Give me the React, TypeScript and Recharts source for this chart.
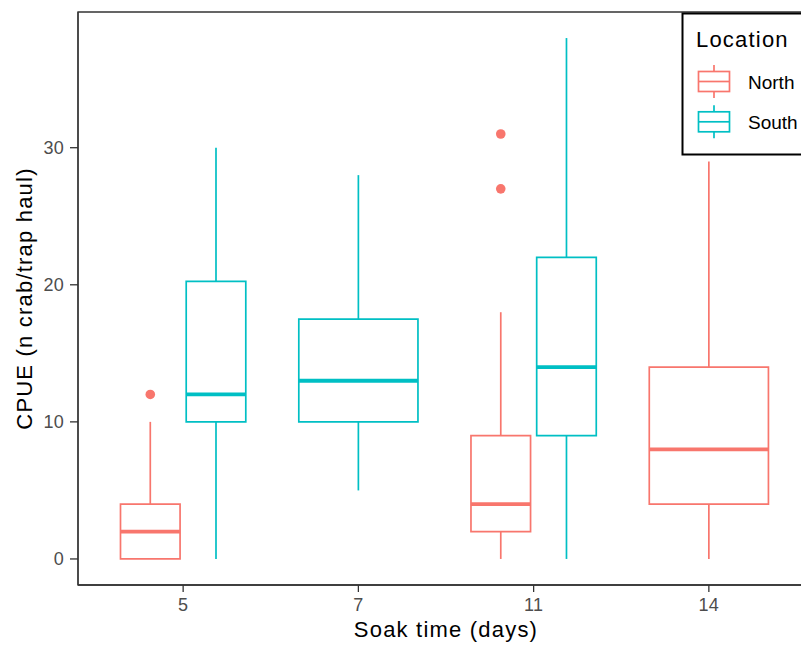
import {
  ComposedChart, XAxis, YAxis, Scatter, ReferenceArea, ReferenceLine,
} from 'recharts'

const SOAK = ['5', '7', '11', '14']
const LOCATIONS = ['North', 'South']
const LOC_COLORS = ['#F8766D', '#00BFC4']

// one entry per box
const BOX_SOAK = ['5', '5', '7', '11', '11', '14']
const BOX_LOC = ['North', 'South', 'South', 'North', 'South', 'North']
const BOX_MIN = [0, 0, 5, 0, 0, 0]
const BOX_Q1 = [0, 10, 10, 2, 9, 4]
const BOX_MED = [2, 12, 13, 4, 14, 8]
const BOX_Q3 = [4, 20.25, 17.5, 9, 22, 14]
const BOX_MAX = [10, 30, 28, 18, 38, 29]

const OUT_SOAK = ['5', '11', '11']
const OUT_LOC = ['North', 'North', 'North']
const OUT_VAL = [12, 27, 31]

const Y_TICKS = [0, 10, 20, 30]

const FONT = '"Liberation Sans", Arial, sans-serif'
const DODGE = 0.1875
const BOX_W = 0.34

// x position of a box / point, dodged when both locations share a soak time
function xPos(soak: string, loc: string) {
  const idx = SOAK.indexOf(soak) + 1
  const shared = BOX_SOAK.filter(s => s === soak).length > 1
  if (!shared) return { cx: idx, hw: BOX_W }
  const side = LOCATIONS.indexOf(loc) === 0 ? -1 : 1
  return { cx: idx + side * DODGE, hw: BOX_W / 2 }
}

const colorOf = (loc: string) => LOC_COLORS[LOCATIONS.indexOf(loc)]

const outliers = OUT_VAL.map((v, i) => ({
  x: xPos(OUT_SOAK[i], OUT_LOC[i]).cx,
  y: v,
  loc: OUT_LOC[i],
}))

export default function App() {
  const boxes = BOX_SOAK.map((soak, i) => {
    const { cx, hw } = xPos(soak, BOX_LOC[i])
    const c = colorOf(BOX_LOC[i])
    return [
      <ReferenceLine key={`wl${i}`} segment={[{ x: cx, y: BOX_MIN[i] }, { x: cx, y: BOX_Q1[i] }]}
        stroke={c} strokeWidth={1.7} />,
      <ReferenceLine key={`wu${i}`} segment={[{ x: cx, y: BOX_Q3[i] }, { x: cx, y: BOX_MAX[i] }]}
        stroke={c} strokeWidth={1.7} />,
      <ReferenceArea key={`b${i}`} x1={cx - hw} x2={cx + hw} y1={BOX_Q1[i]} y2={BOX_Q3[i]}
        fill="#ffffff" fillOpacity={1} stroke={c} strokeWidth={1.7} />,
      <ReferenceLine key={`m${i}`} segment={[{ x: cx - hw, y: BOX_MED[i] }, { x: cx + hw, y: BOX_MED[i] }]}
        stroke={c} strokeWidth={3.8} />,
    ]
  })

  return (
    <div style={{
      position: 'absolute', left: 0, top: 0, width: 801, height: 646,
      overflow: 'hidden', background: '#fff', fontFamily: FONT,
    }}>
      <ComposedChart width={830} height={646} margin={{ top: 12, right: 16, bottom: 0, left: 0 }}>
        <ReferenceArea x1={0.4} x2={4.6} y1={-1.9} y2={39.9} fill="none" stroke="#333333" strokeWidth={1.3} />
        <XAxis
          type="number" dataKey="x" domain={[0.4, 4.6]} ticks={[1, 2, 3, 4]}
          tickFormatter={(v: number) => SOAK[v - 1]} allowDataOverflow
          height={61} tickSize={7} tickMargin={6}
          axisLine={{ stroke: '#333333', strokeWidth: 1.3 }} tickLine={{ stroke: '#333333', strokeWidth: 1.3 }}
          tick={{ fill: '#4D4D4D', fontSize: 18, fontFamily: FONT, letterSpacing: 0.3 }}
          label={{
            value: 'Soak time (days)', position: 'insideBottom', offset: 9,
            style: { fill: '#000', fontSize: 22, fontFamily: FONT, letterSpacing: 1.2 },
          }}
        />
        <YAxis
          type="number" dataKey="y" domain={[-1.9, 39.9]} ticks={Y_TICKS} allowDataOverflow
          width={78} tickSize={8} tickMargin={6}
          axisLine={{ stroke: '#333333', strokeWidth: 1.3 }} tickLine={{ stroke: '#333333', strokeWidth: 1.3 }}
          tick={{ fill: '#4D4D4D', fontSize: 18, fontFamily: FONT, letterSpacing: 0.3 }}
          label={{
            value: 'CPUE (n crab/trap haul)', angle: -90, position: 'insideLeft', offset: 24,
            style: { fill: '#000', fontSize: 22, fontFamily: FONT, letterSpacing: 1.2, textAnchor: 'middle' },
          }}
        />
        {boxes}
        <Scatter
          data={outliers}
          isAnimationActive={false}
          shape={(p: any) => <circle cx={p.cx} cy={p.cy} r={4.8} fill={colorOf(p.payload.loc)} />}
        />
      </ComposedChart>

      <svg width={801} height={646} style={{ position: 'absolute', left: 0, top: 0, pointerEvents: 'none' }}>
        <rect x={682.5} y={13.5} width={200} height={141} fill="#fff" stroke="#000" strokeWidth={2} />
        <text x={696} y={47} fontSize={22} fontFamily={FONT} letterSpacing={1.2} fill="#000">Location</text>
        {LOCATIONS.map((loc, i) => {
          const cy = 81.5 + 40.3 * i
          const c = LOC_COLORS[i]
          return (
            <g key={loc}>
              <line x1={714} x2={714} y1={cy - 16.5} y2={cy + 16.5} stroke={c} strokeWidth={1.7} />
              <rect x={698.5} y={cy - 10} width={31} height={20} fill="#fff" stroke={c} strokeWidth={1.7} />
              <line x1={698.5} x2={729.5} y1={cy} y2={cy} stroke={c} strokeWidth={1.7} />
              <text x={748} y={cy + 7.5} fontSize={19} fontFamily={FONT} fill="#000">{loc}</text>
            </g>
          )
        })}
      </svg>
    </div>
  )
}
